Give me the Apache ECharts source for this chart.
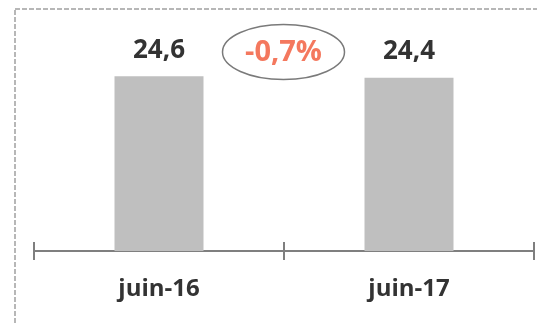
<!DOCTYPE html>
<html>
<head>
<meta charset="utf-8">
<script src="https://cdn.jsdelivr.net/npm/echarts@6/dist/echarts.min.js"></script>
<style>
  html, body { margin: 0; padding: 0; background: #fff; }
  #chart { width: 537px; height: 323px; }
</style>
</head>
<body>
<div id="chart"></div>
<script>
// data
let categories = ['juin-16', 'juin-17'];
let values = [24.6, 24.4];
let changeLabel = '-0,7%';

let fontFamily = '"Open Sans", sans-serif';

let myChart = echarts.init(document.getElementById('chart'));

let option = {
  animation: false,
  grid: { left: 34, right: 3, top: 38, bottom: 72 },
  xAxis: [
    {
      type: 'category',
      data: categories,
      position: 'bottom',
      axisLine: { lineStyle: { color: '#7f7f7f', width: 2 } },
      axisTick: { show: true, length: 9, lineStyle: { color: '#7f7f7f', width: 2 } },
      axisLabel: {
        color: '#333',
        fontFamily: fontFamily,
        fontWeight: 'bold',
        fontSize: 24,
        margin: 26
      }
    },
    {
      type: 'category',
      data: categories,
      position: 'bottom',
      axisLine: { show: false },
      axisTick: { show: true, inside: true, length: 9, lineStyle: { color: '#7f7f7f', width: 2 } },
      axisLabel: { show: false }
    }
  ],
  yAxis: {
    type: 'value',
    min: 0,
    max: 30,
    show: false,
    splitLine: { show: false }
  },
  series: [
    {
      type: 'bar',
      xAxisIndex: 0,
      data: values,
      barWidth: 89,
      itemStyle: { color: '#bfbfbf' },
      label: {
        show: true,
        position: 'top',
        distance: 13,
        color: '#333',
        fontFamily: fontFamily,
        fontWeight: 'bold',
        fontSize: 26,
        formatter: function (p) {
          return p.value.toFixed(1).replace('.', ',');
        }
      }
    }
  ],
  graphic: [
    {
      type: 'rect',
      shape: { x: 15, y: 9, width: 700, height: 500 },
      style: { fill: 'none', stroke: '#a0a0a0', lineWidth: 1.5, lineDash: [5, 2] },
      silent: true
    },
    {
      type: 'ellipse',
      shape: { cx: 283.5, cy: 52, rx: 61, ry: 27.5 },
      style: { fill: 'none', stroke: '#7a7a7a', lineWidth: 1.5 },
      silent: true
    },
    {
      type: 'text',
      x: 283.5,
      y: 53,
      style: {
        text: changeLabel,
        fill: '#f4785e',
        font: 'bold 29px ' + fontFamily,
        align: 'center',
        verticalAlign: 'middle'
      },
      silent: true
    }
  ]
};

myChart.setOption(option);
</script>
</body>
</html>
